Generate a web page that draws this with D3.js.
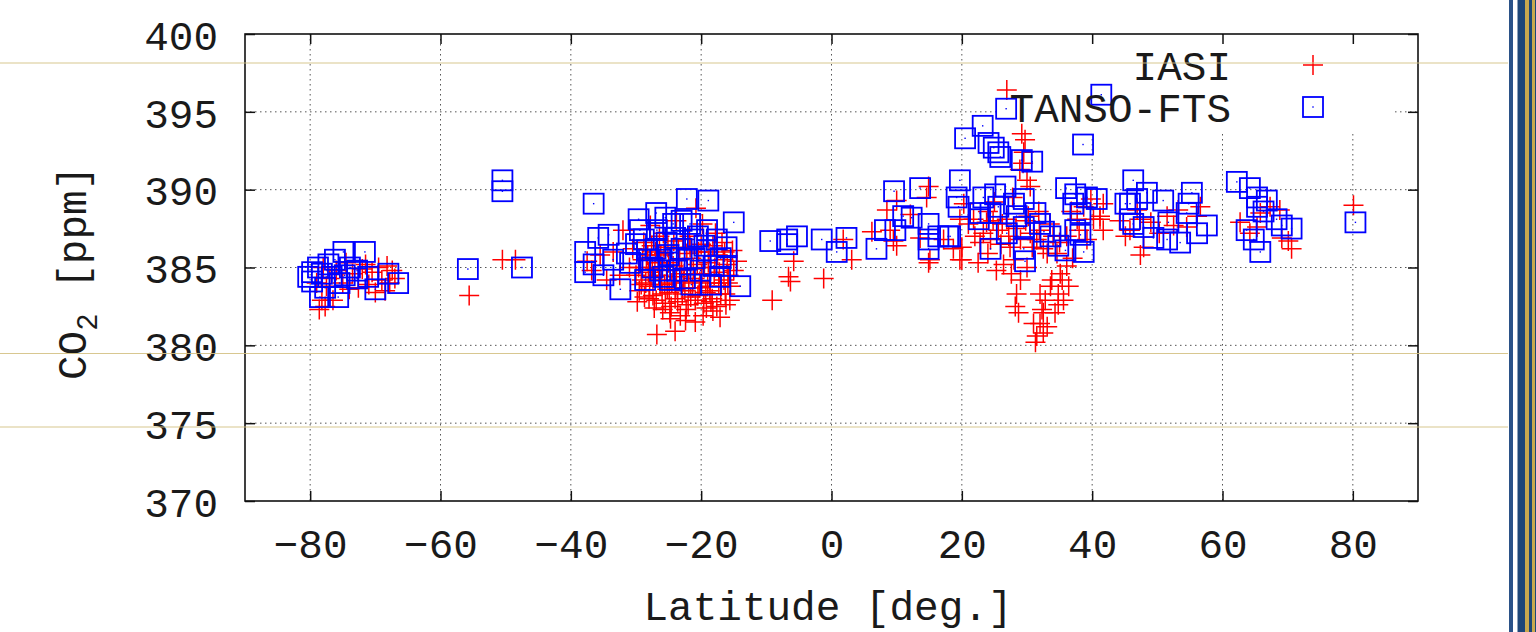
<!DOCTYPE html>
<html>
<head>
<meta charset="utf-8">
<script src="https://cdn.jsdelivr.net/npm/d3@7"></script>
<style>
  body { margin: 0; background: #fff; }
  text { font-family: "Liberation Mono", "DejaVu Sans Mono", monospace; fill: #1a1a1a; }
</style>
</head>
<body>
<div id="chart-area"></div>
<script>
// ticks
var xTicks = [-80, -60, -40, -20, 0, 20, 40, 60, 80];
var yTicks = [370, 375, 380, 385, 390, 395, 400];

// IASI (lat, co2)
var iasi = [
  // south polar
  [-78.2,382.9],[-76.5,382.9],[-77.7,382.5],[-70.0,383.4],[-67.4,384.8],[-67.0,384.3],[-72.6,383.7],
  [-79.0,384.0],[-78.0,385.0],[-77.0,384.3],[-76.0,384.8],[-75.0,384.0],[-74.0,383.6],[-73.5,384.6],
  [-71.5,385.2],[-71.0,383.9],[-70.5,384.7],[-69.5,385.0],[-69.0,384.2],[-68.5,383.5],[-68.2,385.1],
  [-67.8,384.0],[-72.0,384.9],[-74.5,385.3],[-77.5,383.8],[-78.6,382.3],
  [-55.6,383.2],[-50.5,385.5],[-48.5,385.5],
  // southern mid-lat
  [-26.8,380.7],[-24.0,380.9],[-20.9,381.5],[-17.1,381.8],[-18.2,382.2],[-24.8,382.1],[-32.0,387.4],
  [-36.8,384.8],[-37.5,385.4],[-34.5,384.2],
  [-30.0,384.5],[-29.5,383.5],[-29.0,385.5],[-28.5,384.0],[-28.0,383.0],[-27.5,385.0],[-27.0,386.0],
  [-26.5,384.5],[-26.0,383.3],[-25.5,382.7],[-25.0,385.3],[-24.5,384.0],[-24.0,383.0],[-23.5,386.2],
  [-23.0,384.8],[-22.5,383.5],[-22.0,382.6],[-21.5,385.6],[-21.0,384.3],[-20.5,383.2],[-20.0,386.5],
  [-19.5,385.0],[-19.0,383.8],[-18.5,382.8],[-18.0,384.5],[-17.5,385.8],[-17.0,383.3],[-16.5,384.2],
  [-16.0,385.2],[-15.5,383.8],[-15.0,384.8],[-14.5,385.4],[-28.8,386.6],[-27.8,387.7],[-25.8,387.2],
  [-23.8,388.0],[-21.8,387.0],[-19.8,387.8],[-17.8,387.2],[-29.8,382.8],[-27.2,382.4],[-23.2,381.9],
  [-19.2,382.4],[-16.2,382.6],[-31.0,385.0],[-32.5,384.5],[-33.5,386.0],[-35.5,385.8],[-30.5,386.2],
  [-26.2,385.8],[-22.2,385.9],[-18.8,386.0],[-24.2,386.7],[-20.8,388.8],[-16.8,386.6],[-15.2,386.1],
  [-29.2,383.9],[-27.7,384.4],[-26.3,383.9],[-25.2,383.6],[-23.8,384.4],[-22.7,384.1],[-21.3,383.7],
  [-20.2,384.1],[-18.7,383.5],[-17.3,384.0],[-15.8,384.5],[-28.2,385.8],[-25.7,385.9],[-21.7,386.3],
  [-29.6,385.0],[-29.1,384.2],[-28.7,383.1],[-28.4,385.6],[-28.1,384.7],[-27.9,383.8],[-27.4,383.2],
  [-27.1,384.9],[-26.9,382.9],[-26.6,385.3],[-26.1,384.2],[-25.9,382.3],[-25.6,383.9],[-25.3,384.8],
  [-24.9,383.4],[-24.6,382.5],[-24.3,385.1],[-23.9,383.7],[-23.6,382.8],[-23.3,385.5],[-22.9,383.3],
  [-22.6,384.6],[-22.3,382.3],[-21.9,384.0],[-21.6,383.1],[-21.2,384.9],[-20.9,382.9],[-20.6,385.2],
  [-20.3,383.7],[-19.9,384.6],[-19.6,382.7],[-19.3,383.4],[-18.9,385.3],[-18.6,384.0],[-18.3,383.0],
  [-17.9,385.0],[-17.6,382.5],[-17.2,384.7],[-16.9,383.8],[-16.6,385.5],[-16.3,383.3],[-15.9,384.0],
  [-15.6,382.9],[-27.6,386.4],[-25.1,386.3],[-22.8,386.8],[-20.4,386.0],[-18.2,386.4],[-16.4,386.0],
  [-26.4,387.0],[-24.7,381.7],[-19.7,381.9],[-22.4,381.6],
  // tropics
  [-9.1,382.9],[-6.6,384.4],[-6.3,384.1],[-5.8,385.4],[-1.2,384.3],[3.1,385.5],[1.8,386.8],[6.2,387.3],
  [9.0,387.4],[10.0,386.4],[9.5,386.7],[8.5,388.7],[10.0,389.3],[12.1,388.4],[14.9,390.2],[14.6,389.5],
  [13.6,386.9],[15.1,385.5],[14.9,385.3],[17.2,386.8],[19.7,388.1],[20.0,385.5],[18.7,386.2],
  // northern subtropics
  [26.9,396.4],[29.2,393.6],[29.7,393.2],[29.5,392.4],[30.0,390.6],[30.5,390.2],[28.9,391.3],[29.4,391.7],
  [29.0,384.2],[28.4,383.3],[28.2,382.5],[28.7,382.1],[32.0,383.3],[32.3,382.3],[32.0,381.4],[32.5,380.8],
  [31.5,380.6],[33.1,381.2],[34.3,382.1],[34.8,383.3],[35.4,384.2],[35.6,382.9],[35.1,384.6],[36.1,385.1],
  [36.4,383.8],[33.6,383.8],[33.8,384.2],[32.8,382.9],[32.5,382.1],[31.3,380.2],[34.8,382.6],[31.0,381.4],
  [20.3,389.1],[20.0,386.3],[19.7,385.5],[21.8,388.1],[23.3,387.2],[24.4,386.8],[25.6,387.4],[26.9,388.1],
  [27.4,386.3],[28.0,385.5],[29.0,386.8],[30.2,388.3],[30.5,387.2],[31.5,386.8],[33.1,385.9],[34.6,385.9],
  [36.1,387.0],[37.7,388.1],[38.7,388.9],[40.2,388.1],[41.2,388.3],[39.2,386.8],[26.4,385.2],[22.8,386.6],
  [24.0,388.6],[25.0,389.2],[27.8,389.5],[31.8,388.6],[33.5,387.8],[35.0,386.6],[37.0,385.6],[22.0,387.0],
  [23.8,387.9],[24.8,388.0],[26.2,387.8],[27.2,387.0],[28.3,387.5],[29.8,388.0],[30.8,386.3],[31.9,387.4],
  [27.6,384.6],[26.0,386.5],[24.0,385.9],[22.5,385.3],[25.3,384.8],[30.0,385.0],[32.5,386.2],[34.0,387.0],
  [36.8,388.6],[38.0,387.4],[39.8,389.4],[21.0,387.8],
  // northern mid/high lat
  [41.7,389.1],[41.2,388.1],[41.7,387.4],[46.9,388.7],[47.4,388.1],[45.8,387.4],[45.1,387.0],[47.9,386.3],
  [47.4,385.8],[51.5,388.3],[52.5,387.7],[54.5,387.6],[56.6,388.9],[56.1,388.3],[49.0,387.9],[50.3,387.2],
  [53.2,388.7],[44.2,388.0],[62.7,387.9],[64.2,387.2],[65.8,388.5],[67.3,388.9],[68.8,388.7],[70.1,386.7],
  [70.6,386.2],[69.1,386.9],[65.3,387.6],[80.1,389.0]
];

// TANSO-FTS (lat, co2)
var tanso = [
  // south polar
  [-74.9,386.0],[-71.6,386.0],[-76.2,385.5],[-73.9,385.0],[-79.7,384.7],[-79.7,384.1],[-78.2,384.6],
  [-77.7,383.7],[-78.5,383.1],[-75.7,383.1],[-72.8,384.8],[-72.8,384.3],[-70.0,383.6],[-68.0,384.6],
  [-66.5,384.0],[-76.7,384.4],[-74.7,384.5],[-71.1,384.4],[-78.8,385.0],[-80.3,384.4],[-77.2,385.2],
  [-75.5,384.0],
  [-55.8,384.9],[-50.5,390.6],[-50.5,389.9],[-47.5,385.0],
  // southern mid-lat
  [-36.5,389.1],[-22.2,389.4],[-18.9,389.3],[-15.0,387.9],[-26.9,388.5],[-29.6,388.1],[-34.2,387.1],
  [-35.8,386.9],[-37.8,386.0],[-36.5,385.2],[-37.8,384.7],[-35.0,384.5],[-32.4,383.6],[-33.5,385.5],
  [-31.4,385.9],[-28.6,384.2],[-24.8,384.2],[-26.8,387.4],[-24.3,387.8],[-21.7,387.8],[-19.1,387.4],
  [-17.6,386.8],[-16.1,386.3],[-14.0,383.8],[-17.1,384.4],[-16.1,385.1],[-20.1,384.8],[-22.2,385.5],
  [-26.3,385.5],[-28.3,386.1],[-28.8,386.8],[-25.3,386.6],[-21.2,386.8],[-19.1,386.1],[-29.4,387.4],
  [-26.3,384.8],[-23.7,384.8],[-18.1,385.1],[-30.9,385.3],
  [-27.5,385.0],[-25.0,385.8],[-23.0,386.2],[-21.0,385.6],[-19.5,386.4],[-27.0,386.2],[-24.0,386.9],
  [-20.5,387.0],[-17.0,385.6],[-22.5,384.3],[-25.8,384.4],[-28.0,385.5],[-30.0,386.5],[-18.5,383.9],
  [-21.5,383.9],[-23.0,388.0],[-25.5,388.2],
  // tropics
  [-9.4,386.7],[-6.8,386.8],[-5.3,387.0],[-6.8,386.5],[-1.5,386.8],[2.3,386.9],[0.8,386.0],[6.9,386.2],
  [9.6,389.9],[13.6,390.1],[11.0,388.3],[12.3,388.2],[8.2,387.4],[9.8,387.4],[14.9,387.8],[14.9,386.2],
  [14.9,386.8],[16.4,387.0],[17.9,387.0],
  // northern subtropics
  [26.8,395.2],[41.4,396.1],[23.2,394.1],[20.5,393.3],[38.6,392.9],[24.1,393.0],[24.9,392.7],[25.6,392.4],
  [25.9,392.1],[29.2,391.9],[30.8,391.8],[19.7,390.6],[19.2,389.5],[19.5,388.9],[36.0,390.1],[37.4,389.7],
  [40.7,389.4],[39.2,389.5],[26.7,390.2],[23.3,389.5],[25.1,389.7],[29.5,389.4],[28.0,389.1],[22.8,388.5],
  [22.6,388.1],[24.4,388.5],[25.6,388.9],[28.4,388.3],[31.3,388.5],[32.0,387.8],[32.6,387.3],[33.6,387.0],
  [34.8,386.4],[35.9,386.1],[37.4,387.4],[38.2,387.1],[38.7,386.0],[37.1,389.1],[38.2,388.5],[29.5,386.2],
  [29.7,385.4],[24.4,386.2],[26.9,387.2],[29.5,387.6],[18.2,387.0],
  // northern mid/high lat
  [46.3,390.6],[45.8,389.1],[45.8,388.1],[48.4,389.8],[45.1,389.1],[46.9,389.4],[50.9,389.3],[55.3,389.8],
  [54.8,389.1],[54.5,388.5],[51.7,387.9],[57.6,387.7],[56.1,387.2],[49.4,386.9],[51.5,386.8],[53.5,386.6],
  [46.3,387.8],[47.9,387.6],[62.2,390.5],[64.2,390.1],[65.3,389.5],[66.8,389.3],[65.3,388.9],[66.3,388.6],
  [68.3,388.1],[69.1,387.7],[70.6,387.5],[63.7,387.4],[64.8,386.8],[65.8,386.0],[80.4,387.9]
];

var legendNames = ["IASI", "TANSO-FTS"];

//variable setting
var W = 1536, H = 632;
var plot = {left:245, right:1418, top:34, bottom:501};

var svg = d3.select("#chart-area")
  .append("svg")
    .attr("width", W)
    .attr("height", H);

//scales
var x = d3.scaleLinear().domain([-90, 90]).range([plot.left, plot.right]);
var y = d3.scaleLinear().domain([370, 400]).range([plot.bottom, plot.top]);

//dotted grid
var grid = svg.append("g").attr("class", "grid")
  .attr("stroke", "#555").attr("stroke-width", 1).attr("stroke-dasharray", "1.5,3.5");
grid.selectAll(".vg").data(xTicks).enter().append("line")
  .attr("x1", d => x(d)).attr("x2", d => x(d))
  .attr("y1", plot.top).attr("y2", plot.bottom);
grid.selectAll(".hg").data(yTicks.slice(1, -1)).enter().append("line")
  .attr("x1", plot.left).attr("x2", plot.right)
  .attr("y1", d => y(d)).attr("y2", d => y(d));

//key area hides the grid (gnuplot opaque key)
svg.append("rect")
  .attr("x", 1000).attr("y", plot.top + 1)
  .attr("width", 393).attr("height", 96)
  .attr("fill", "#fff");

//axes, ticks pointing inward
var xAxisCall = d3.axisBottom(x).tickValues(xTicks).tickSizeInner(-10).tickSizeOuter(0).tickPadding(28);
var yAxisCall = d3.axisLeft(y).tickValues(yTicks).tickSizeInner(-10).tickSizeOuter(0).tickPadding(27);

var xAxis = svg.append("g")
  .attr("transform", "translate(0," + plot.bottom + ")")
  .call(xAxisCall);
var yAxis = svg.append("g")
  .attr("transform", "translate(" + plot.left + ",0)")
  .call(yAxisCall);
svg.append("g")
  .attr("transform", "translate(0," + plot.top + ")")
  .call(d3.axisTop(x).tickValues(xTicks).tickSizeInner(-10).tickSizeOuter(0).tickFormat(""));
svg.append("g")
  .attr("transform", "translate(" + plot.right + ",0)")
  .call(d3.axisRight(y).tickValues(yTicks).tickSizeInner(-10).tickSizeOuter(0).tickFormat(""));

svg.selectAll(".domain").remove();
svg.selectAll(".tick line").attr("stroke", "#111").attr("stroke-width", 1.5);
svg.selectAll(".tick text")
  .attr("font-family", "Liberation Mono, monospace")
  .attr("font-size", 41)
  .attr("fill", "#1a1a1a");
yAxis.selectAll(".tick text").attr("dy", "0.37em");

//frame
svg.append("rect")
  .attr("x", plot.left).attr("y", plot.top)
  .attr("width", plot.right - plot.left).attr("height", plot.bottom - plot.top)
  .attr("fill", "none").attr("stroke", "#111").attr("stroke-width", 1.6);

//IASI: red plus
var plusPath = "M-10,0H10M0,-10V10";
svg.append("g").selectAll("path").data(iasi).enter().append("path")
  .attr("transform", d => "translate(" + x(d[0]) + "," + y(d[1]) + ")")
  .attr("d", plusPath)
  .attr("stroke", "#ff0000").attr("stroke-width", 1.5).attr("fill", "none");

//TANSO-FTS: blue square with dot
var sq = svg.append("g").selectAll("g").data(tanso).enter().append("g")
  .attr("transform", d => "translate(" + x(d[0]) + "," + y(d[1]) + ")");
sq.append("rect")
  .attr("x", -10).attr("y", -10).attr("width", 20).attr("height", 20)
  .attr("fill", "none").attr("stroke", "#0000ff").attr("stroke-width", 1.8);
sq.append("rect")
  .attr("x", -0.7).attr("y", -0.7).attr("width", 1.4).attr("height", 1.4)
  .attr("fill", "#0000ff");

//legend
var legend = svg.append("g");
legend.selectAll("text").data(legendNames).enter().append("text")
  .attr("x", 1231)
  .attr("y", (d, i) => 80 + i * 42)
  .attr("text-anchor", "end")
  .attr("font-size", 41)
  .text(d => d);
legend.append("path")
  .attr("transform", "translate(1313,65)")
  .attr("d", plusPath)
  .attr("stroke", "#ff0000").attr("stroke-width", 1.5);
legend.append("rect")
  .attr("x", 1303).attr("y", 97).attr("width", 20).attr("height", 20)
  .attr("fill", "none").attr("stroke", "#0000ff").attr("stroke-width", 1.8);
legend.append("rect")
  .attr("x", 1312.3).attr("y", 106.3).attr("width", 1.4).attr("height", 1.4)
  .attr("fill", "#0000ff");

//axis titles
svg.append("text")
  .attr("x", 828).attr("y", 620)
  .attr("text-anchor", "middle")
  .attr("font-size", 41)
  .text("Latitude [deg.]");

var yTitle = svg.append("text")
  .attr("transform", "translate(86,380) rotate(-90)")
  .attr("font-size", 41);
yTitle.append("tspan").text("CO");
yTitle.append("tspan").attr("font-size", 29).attr("dy", 11).text("2");
yTitle.append("tspan").attr("dy", -11).text(" [ppm]");

//slide decoration: gold rules and right border
var rules = [63, 353.5, 427];
svg.append("g").selectAll("line").data(rules).enter().append("line")
  .attr("x1", 0).attr("x2", 1508)
  .attr("y1", d => d).attr("y2", d => d)
  .attr("stroke", "#d4c184").attr("stroke-width", 1.2).attr("opacity", 0.9);

var border = [
  {x:1509, w:4, c:"#2b5288"},
  {x:1517.5, w:7.5, c:"#1e4678"},
  {x:1525, w:4, c:"#c9a84e"},
  {x:1529, w:3, c:"#1e4678"},
  {x:1532, w:3, c:"#c9a84e"},
  {x:1535, w:1, c:"#1e4678"}
];
svg.append("g").selectAll("rect").data(border).enter().append("rect")
  .attr("x", d => d.x).attr("y", 0)
  .attr("width", d => d.w).attr("height", H)
  .attr("fill", d => d.c);
</script>
</body>
</html>
